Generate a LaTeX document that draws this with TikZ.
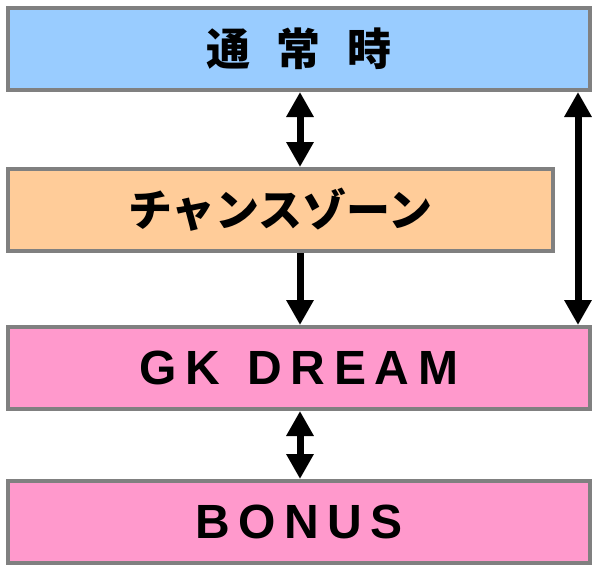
\documentclass[tikz,border=0pt]{standalone}
\usepackage{fontspec}
\setmainfont{Liberation Sans}
\newfontfamily\jafont{Noto Sans CJK JP}
\usetikzlibrary{arrows.meta}

\definecolor{normalblue}{RGB}{153,204,255}
\definecolor{chanceorange}{RGB}{255,204,153}
\definecolor{dreampink}{RGB}{255,153,204}
\definecolor{framegray}{RGB}{128,128,128}

\tikzset{
  statebox/.style={draw=framegray, line width=4pt, rectangle, inner sep=0pt,
    minimum height=82pt, font=\bfseries},
  latintext/.style={font=\fontsize{48}{48}\selectfont\bfseries\addfontfeature{LetterSpace=18}},
  jatext/.style={font=\fontsize{44}{44}\selectfont\jafont\bfseries},
  flow/.style={line width=7pt, -{Triangle[length=25pt,width=26pt]}},
  flowboth/.style={line width=7pt, {Triangle[length=25pt,width=26pt]}-{Triangle[length=25pt,width=26pt]}}
}

\begin{document}
\begin{tikzpicture}[x=1pt,y=-1pt]
            \useasboundingbox (0,0) rectangle (600,571);

            % States
            \node [statebox, fill=normalblue, minimum width=582pt, jatext] (normal) at (299,49) {通\hspace{27pt}常\hspace{27pt}時};
            \node [statebox, fill=chanceorange, minimum width=545pt, jatext] (chance) at (280.5,210) {チャンスゾーン};
            \node [statebox, fill=dreampink, minimum width=582pt, latintext] (dream) at (299,368) {GK\hspace{5pt} DREAM};
            \node [statebox, fill=dreampink, minimum width=582pt, latintext] (bonus) at (299,522) {BONUS};

            % Arrow columns
            \coordinate (mid) at (300,0);
            \coordinate (side) at (578,0);

            % Drawing transitions
            \draw [flowboth] (normal.south -| mid) -- (chance.north -| mid);
            \draw [flow] (chance.south -| mid) -- (dream.north -| mid);
            \draw [flowboth] (normal.south -| side) -- (dream.north -| side);
            \draw [flowboth] (dream.south -| mid) -- (bonus.north -| mid);
\end{tikzpicture}
\end{document}
